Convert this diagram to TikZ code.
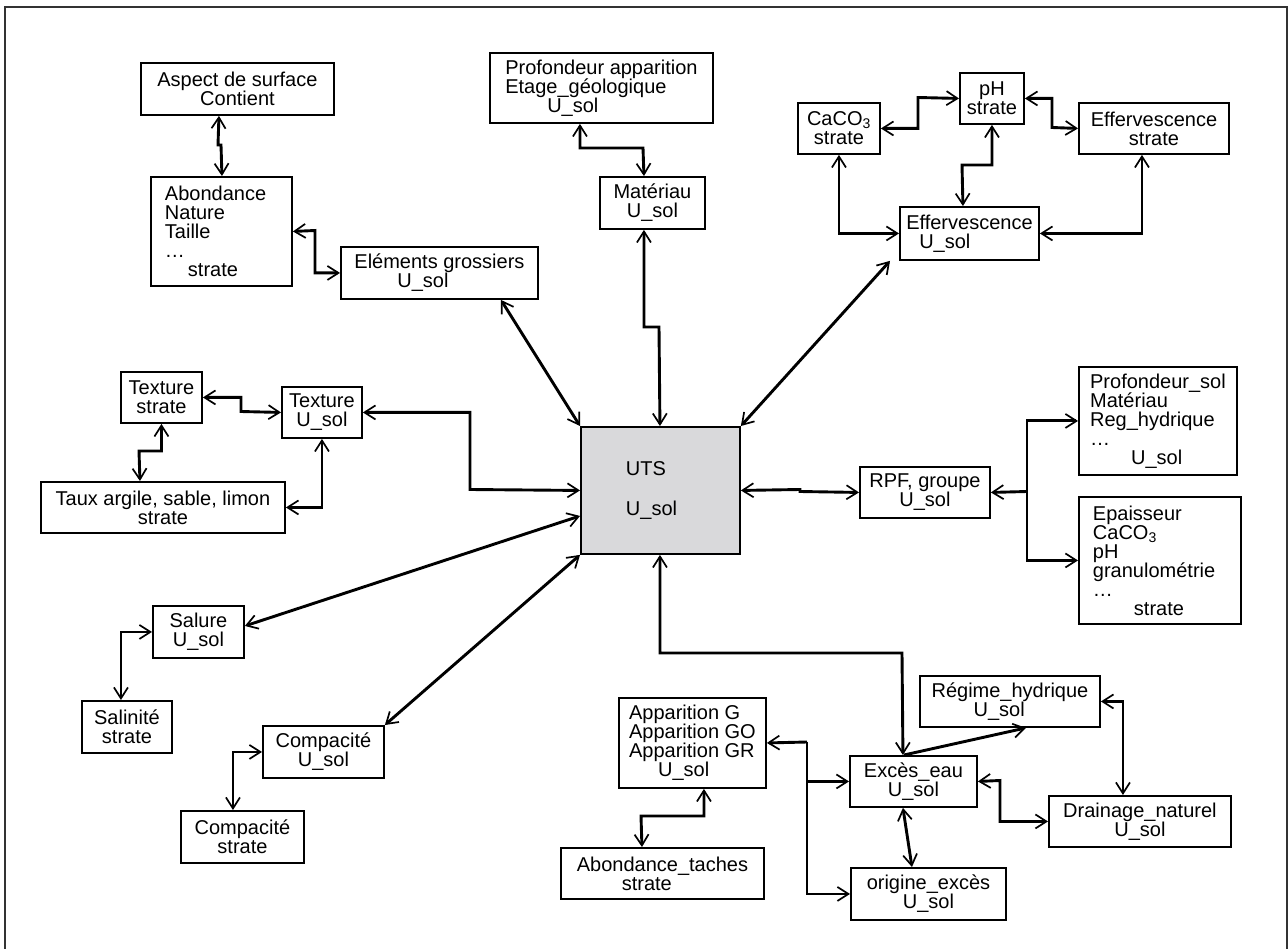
\documentclass[tikz,border=0pt]{standalone}
\usepackage{fontspec}
\setmainfont{Liberation Sans}
\usetikzlibrary{arrows.meta}
\definecolor{utsgray}{RGB}{217,217,219}
\begin{document}
\begin{tikzpicture}[x=1pt,y=-1pt,font=\fontsize{20}{19}\selectfont]
\tikzset{
  barb/.tip={Straight Barb[length=11pt,width=14pt,line width=1.7pt]},
  box/.style={draw,line width=1.9pt,inner sep=0pt,anchor=north west,align=center},
  lbox/.style={box,align=left},
  con/.style={line width=2.9pt},
  dbl/.style={con,barb-barb},
  toarr/.style={con,-barb},
}
\useasboundingbox (0,0) rectangle (1288,949);
\draw[line width=1.5pt,black!80] (5,7) rectangle (1287,962);

% boxes
\node[box,minimum width=193pt,minimum height=52pt] (aspect) at (140,62) {Aspect de surface\\Contient};
\node[lbox,text width=113pt,minimum width=141pt,minimum height=109pt] (abond) at (150,176) {Abondance\\Nature\\Taille\\…\\\hspace*{23pt}strate};
\node[lbox,minimum width=197pt,minimum height=52pt] (elem) at (340,246) {Eléments grossiers\\\hspace*{43pt}U\_sol};
\node[lbox,minimum width=223pt,minimum height=70pt] (prof) at (489,52) {Profondeur apparition\\Etage\_géologique\\\hspace*{42pt}U\_sol};
\node[box,minimum width=105pt,minimum height=52pt] (mat) at (599,176) {Matériau\\U\_sol};
\node[box,minimum width=82pt,minimum height=51pt] (caco3) at (797,102) {CaCO\textsubscript{3}\\strate};
\node[box,minimum width=64pt,minimum height=51pt] (ph) at (959,72) {pH\\strate};
\node[box,minimum width=150pt,minimum height=51pt] (effstr) at (1078,102) {Effervescence\\strate};
\node[lbox,minimum width=139pt,minimum height=53pt] (effusol) at (899,206) {Effervescence\\\hspace*{13pt}U\_sol};
\node[box,minimum width=81pt,minimum height=51pt] (texstr) at (120,371) {Texture\\strate};
\node[box,minimum width=80pt,minimum height=51pt] (texusol) at (281,386) {Texture\\U\_sol};
\node[box,minimum width=244pt,minimum height=51pt] (taux) at (40,481) {Taux argile, sable, limon\\strate};
\node[box,minimum width=91pt,minimum height=52pt] (salure) at (152,605) {Salure\\U\_sol};
\node[box,minimum width=90pt,minimum height=52pt] (salin) at (81,700) {Salinité\\strate};
\node[box,minimum width=121pt,minimum height=52pt] (compu) at (262,725) {Compacité\\U\_sol};
\node[box,minimum width=123pt,minimum height=52pt] (comps) at (180,810) {Compacité\\strate};
\node[lbox,fill=utsgray,text width=69pt,minimum width=159pt,minimum height=127pt] (uts) at (580,426) {UTS\\[21pt]U\_sol};
\node[box,minimum width=130pt,minimum height=51pt] (rpf) at (859,466) {RPF, groupe\\U\_sol};
\node[lbox,minimum width=158pt,minimum height=108pt] (profsol) at (1078,366) {Profondeur\_sol\\Matériau\\Reg\_hydrique\\…\\\hspace*{41pt}U\_sol};
\node[lbox,text width=134pt,minimum width=162pt,minimum height=127pt] (epais) at (1078,496) {Epaisseur\\CaCO\textsubscript{3}\\pH\\granulométrie\\…\\\hspace*{41pt}strate};
\node[lbox,minimum width=147pt,minimum height=90pt] (appar) at (618,697) {Apparition G\\Apparition GO\\Apparition GR\\\hspace*{29pt}U\_sol};
\node[lbox,minimum width=203pt,minimum height=51pt] (abtach) at (560,847) {Abondance\_taches\\\hspace*{45pt}strate};
\node[box,minimum width=127pt,minimum height=51pt] (exces) at (849,755) {Excès\_eau\\U\_sol};
\node[lbox,minimum width=180pt,minimum height=51pt] (regime) at (919,675) {Régime\_hydrique\\\hspace*{42pt}U\_sol};
\node[box,minimum width=182pt,minimum height=51pt] (drain) at (1048,795) {Drainage\_naturel\\U\_sol};
\node[box,minimum width=155pt,minimum height=52pt] (origine) at (850,867) {origine\_excès\\U\_sol};

% connectors
\draw[dbl] ([xshift=-18.5pt]aspect.south) -- (218,145) -- (221,145) -- ([xshift=0.5pt]abond.north);
\draw[dbl] (abond.east) -- (315,230.5) |- (elem.west);
\draw[dbl] ([xshift=61.5pt]elem.south) -- (uts.north west);
\draw[dbl] ([xshift=-21.5pt]prof.south) |- (643,148) -- ([xshift=-8.5pt]mat.north);
\draw[dbl] ([xshift=-8.5pt]mat.south) |- (659,327) -- ([xshift=-0.5pt]uts.north);
\draw[dbl] (caco3.east) -| (918,97.5) -- (ph.west);
\draw[dbl] (ph.east) -| (1052,127.5) -- (effstr.west);
\draw[dbl] (ph.south) |- (962,165) -- ([xshift=-6.5pt]effusol.north);
\draw[dbl] (caco3.south) |- (effusol.west);
\draw[dbl] ([xshift=-12pt]effstr.south) |- (effusol.east);
\draw[dbl] ([xshift=-9pt]effusol.south west) -- (uts.north east);
\draw[dbl] (texstr.east) -| (241,411.5) -- (texusol.west);
\draw[dbl] (texstr.south) |- (139,451) -- ([xshift=-23pt]taux.north);
\draw[dbl] (texusol.south) |- (taux.east);
\draw[dbl] (texusol.east) -| (470,489.5) -- (uts.west);
\draw[dbl] ([yshift=6pt]salure.east) -- ([yshift=-25.5pt]uts.west);
\draw[dbl] (salure.west) -| ([xshift=-6pt]salin.north);
\draw[dbl] (compu.north east) -- (uts.south west);
\draw[dbl] (compu.west) -| ([xshift=-9.5pt]comps.north);
\draw[dbl] (uts.east) -- (800,489.5) -- (800,491.5) -- (rpf.west);
\coordinate (rj) at (1027,491.5);
\draw[toarr] (rj) -- (rpf.east);
\draw[toarr] (rj) |- (profsol.west);
\draw[toarr] (rj) |- (epais.west);
\draw[dbl] ([xshift=-0.5pt]uts.south) |- (902,653) -- ([xshift=-10.5pt]exces.north);
\draw[toarr] ([xshift=-9.5pt]exces.north) -- ([xshift=16pt]regime.south);
\draw[dbl] (regime.east) -| ([xshift=-17pt]drain.north);
\draw[dbl] (exces.east) -- (1000,780.5) |- (drain.west);
\draw[dbl] ([xshift=-10.5pt]exces.south) -- ([xshift=-16.5pt]origine.north);
\coordinate (aj) at (807,742);
\draw[toarr] (aj) -- (appar.east);
\draw[toarr] (aj) |- (exces.west);
\draw[toarr] (aj) |- (origine.west);
\draw[dbl] ([xshift=11.5pt]appar.south) |- (641,816) -- ([xshift=-20.5pt]abtach.north);
\end{tikzpicture}
\end{document}
